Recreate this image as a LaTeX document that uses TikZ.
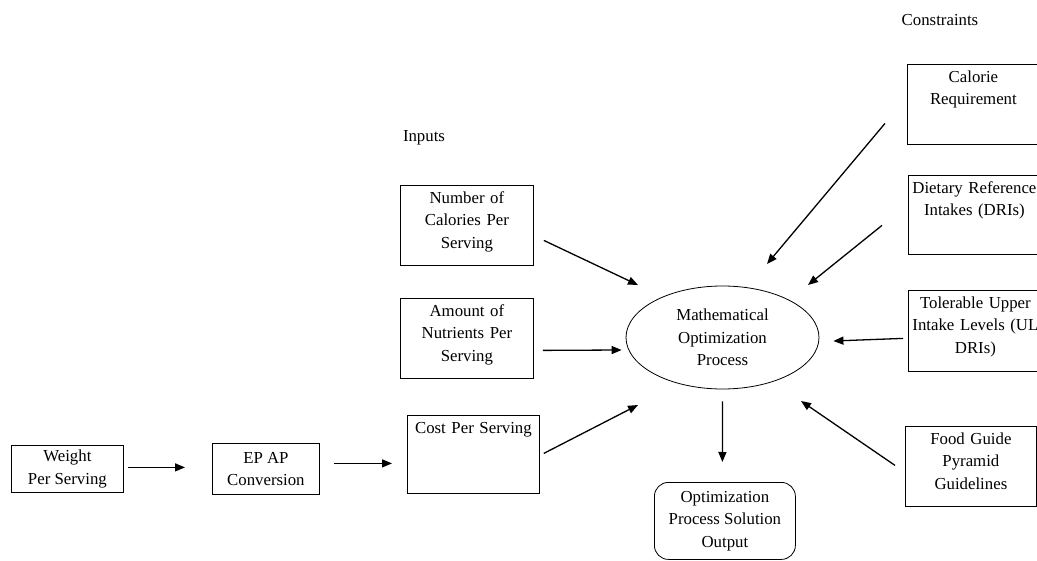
\documentclass[tikz,border=0pt]{standalone}
\usepackage{fontspec}
\setmainfont{Liberation Serif}
\usepackage{tikz}
\usetikzlibrary{arrows.meta,positioning,shapes.geometric}
\tikzset{
  topbox/.style={
    draw=black,line width=.8pt,anchor=north west,
    inner xsep=3pt,inner ysep=6pt,align=center,
    text height=12pt
  },
  midbox/.style={
    draw=black,line width=.8pt,anchor=north west,
    inner sep=2pt,align=center
  },
  procnode/.style={
    ellipse,draw=black,line width=.8pt,inner sep=0pt,
    minimum width=193pt,minimum height=103pt,align=center
  },
  outbox/.style={
    draw=black,line width=.8pt,rounded corners=14pt,anchor=north west,
    minimum width=141pt,minimum height=77pt,inner sep=2pt,align=center
  },
  arrow/.style={-{Triangle[length=10pt,width=8pt]},draw=black,line width=1.3pt}
}

\begin{document}
\begin{tikzpicture}[x=1pt,y=-1pt,font=\fontsize{16.8pt}{22.5pt}\selectfont]
\clip (0,0) rectangle (1037,561);

% labels
\node (inlabel) at (424,138) {Inputs};
\node (conlabel) at (940,20) {Constraints};

% inputs
\node[topbox,text width=127pt,text depth=56pt] (num) at (400,185)
{Number of\\Calories Per\\Serving};
\node[topbox,text width=127pt,text depth=56pt] (amt) at (400,298)
{Amount of\\Nutrients Per\\Serving};
\node[topbox,text width=126pt,text depth=54pt] (cost) at (407,415)
{Cost Per Serving};

\node[midbox,minimum width=112pt,minimum height=47pt] (weight) at (11,445)
{Weight\\Per Serving};
\node[midbox,minimum width=107pt,minimum height=51pt] (ep) at (212,443)
{EP AP\\Conversion};

% process and output
\node[procnode] (opt) at (722.5,337.5)
{Mathematical\\Optimization\\Process};
\node[outbox] (out) at (654,482)
{Optimization\\Process Solution\\Output};

% constraints
\node[topbox,text width=126pt,text depth=56pt] (cal) at (907,64)
{Calorie\\Requirement};
\node[topbox,text width=126pt,text depth=55pt] (dri) at (908,175)
{Dietary Reference\\Intakes (DRIs)};
\node[topbox,text width=128pt,text depth=57pt] (tol) at (908,290)
{Tolerable Upper\\Intake Levels (UL\\DRIs)};
\node[topbox,text width=125pt,text depth=56pt] (food) at (905,426)
{Food Guide\\Pyramid\\Guidelines};

% arrows
\draw[arrow] ([shift={(4,-1.5)}]weight.east) -- ([shift={(-27,-1.5)}]ep.west);
\draw[arrow] ([shift={(14,-5.5)}]ep.east) -- ([shift={(-15,9)}]cost.west);
\draw[arrow] ([shift={(10,15)}]num.east) -- ([shift={(-84.5,-52.5)}]opt.center);
\draw[arrow] ([shift={(9,12)}]amt.east) -- ([shift={(-4,12.5)}]opt.west);
\draw[arrow] ([shift={(4,-1)}]cost.east) -- ([shift={(-84.5,67.5)}]opt.center);
\draw[arrow] ([shift={(0,12)}]opt.south) -- ([shift={(-2.5,-20)}]out.north);
\draw[arrow] ([shift={(-22,19)}]cal.west) -- ([shift={(44.5,-73.5)}]opt.center);
\draw[arrow] ([shift={(-26,10.5)}]dri.west) -- ([shift={(85.5,-52.5)}]opt.center);
\draw[arrow] ([shift={(-5,7.5)}]tol.west) -- ([shift={(14,3.5)}]opt.east);
\draw[arrow] ([shift={(-10,-1)}]food.west) -- ([shift={(78.5,63.5)}]opt.center);
\end{tikzpicture}
\end{document}
